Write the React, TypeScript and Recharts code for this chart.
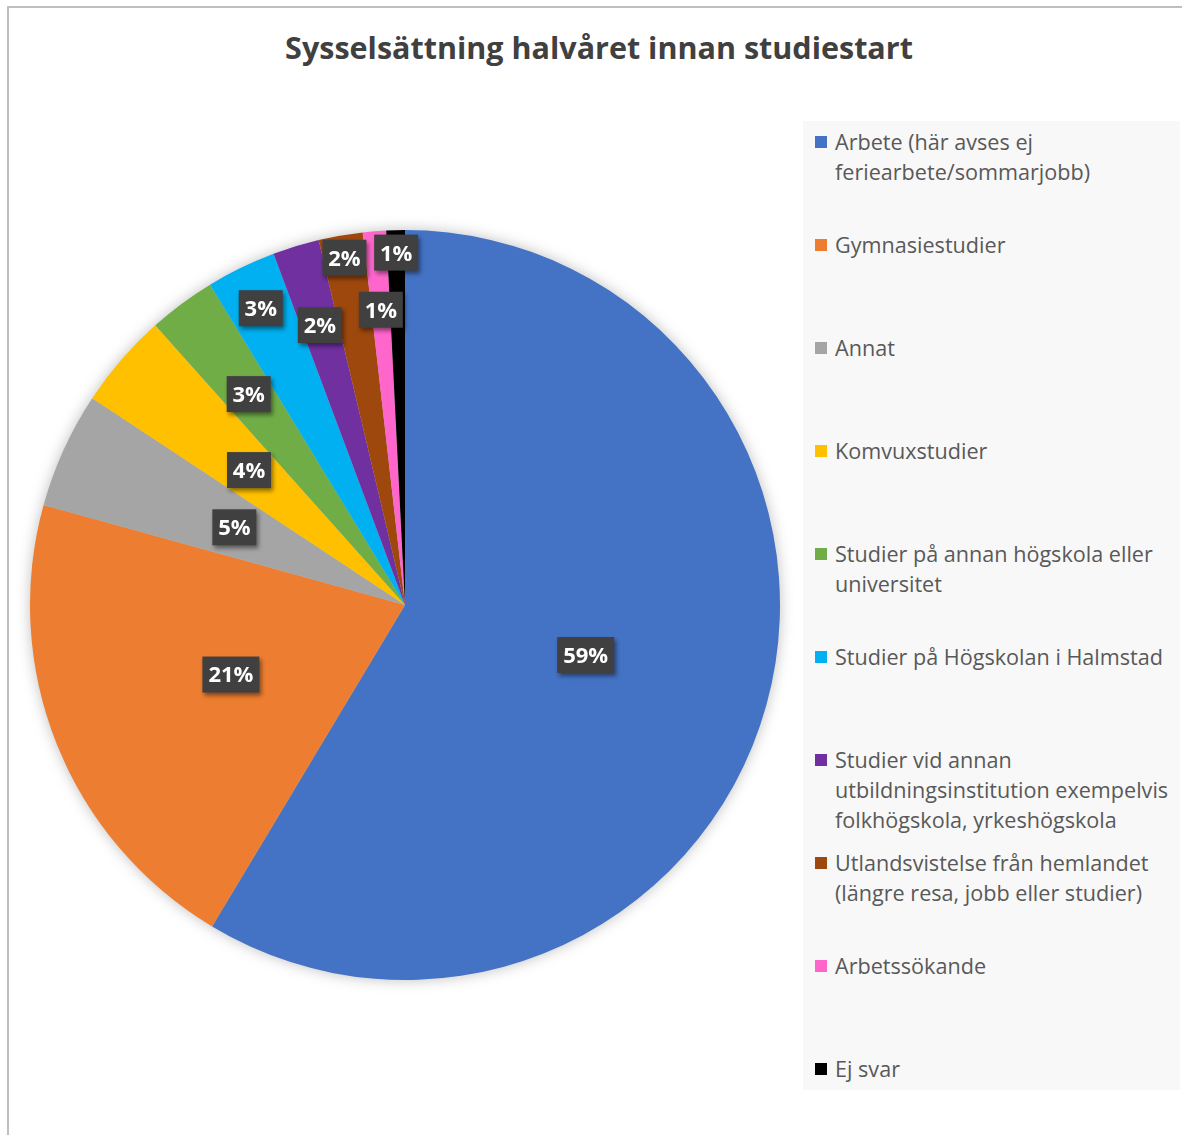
import React from "react";
import { PieChart, Pie, Cell, Legend } from "recharts";

const categories = [
  "Arbete (här avses ej\nferiearbete/sommarjobb)",
  "Gymnasiestudier",
  "Annat",
  "Komvuxstudier",
  "Studier på annan högskola eller\nuniversitet",
  "Studier på Högskolan i Halmstad",
  "Studier vid annan\nutbildningsinstitution exempelvis\nfolkhögskola, yrkeshögskola",
  "Utlandsvistelse från hemlandet\n(längre resa, jobb eller studier)",
  "Arbetssökande",
  "Ej svar",
];

// share of respondents (%)
const shares = [58.6, 20.7, 5.0, 4.1, 2.9, 3.0, 2.0, 1.9, 1.0, 0.8];

const colors = [
  "#4472C4",
  "#ED7D31",
  "#A5A5A5",
  "#FFC000",
  "#70AD47",
  "#00B0F0",
  "#7030A0",
  "#9E480E",
  "#FF66CC",
  "#000000",
];

// "best fit" label distance from centre, fraction of radius
const labelRadius = [0.5, 0.5, 0.5, 0.55, 0.7, 0.88, 0.78, 0.94, 0.79, 0.94];

const data = categories.map((name, i) => ({ name, value: shares[i] }));

const RAD = Math.PI / 180;
const FONT = "'Open Sans', 'Noto Sans', sans-serif";

const renderLabel = (props: any) => {
  const { cx, cy, midAngle, outerRadius, percent, index } = props;
  const r = outerRadius * labelRadius[index];
  const x = cx + r * Math.cos(-midAngle * RAD);
  const y = cy + r * Math.sin(-midAngle * RAD);
  const text = `${Math.round(percent * 100)}%`;
  const w = text.length > 2 ? 57 : 44;
  const h = 36;
  return (
    <g style={{ filter: "drop-shadow(2px 3px 2px rgba(0,0,0,0.45))" }}>
      <rect x={x - w / 2} y={y - h / 2} width={w} height={h} fill="#404040" />
      <text
        x={x}
        y={y}
        dy="0.36em"
        textAnchor="middle"
        fill="#ffffff"
        fontSize={22}
        fontWeight={700}
        fontFamily={FONT}
      >
        {text}
      </text>
    </g>
  );
};

// legend keeps the series order (Recharts would sort its payload by name)
const renderLegend = () => (
  <div
    style={{
      background: "#F8F8F8",
      width: 377,
      height: 969,
      fontFamily: FONT,
      fontSize: 21.6,
      color: "#595959",
    }}
  >
    {categories.map((label, i) => (
      <div
        key={i}
        style={{
          height: 103,
          boxSizing: "border-box",
          paddingTop: 6,
          paddingLeft: 12,
          display: "flex",
          alignItems: "flex-start",
        }}
      >
        <div
          style={{
            width: 12,
            height: 12,
            background: colors[i],
            marginTop: 9,
            marginRight: 8,
            flexShrink: 0,
          }}
        />
        <div style={{ whiteSpace: "pre-line", lineHeight: "30px" }}>{label}</div>
      </div>
    ))}
  </div>
);

export default function App() {
  return (
    <div
      style={{
        position: "absolute",
        top: 6,
        left: 7,
        width: 1180,
        height: 1135,
        borderTop: "2px solid #BFBFBF",
        borderLeft: "2px solid #BFBFBF",
        background: "#ffffff",
      }}
    >
      <style>{`.recharts-pie { filter: drop-shadow(0 0 7px rgba(0,0,0,0.25)); }`}</style>
      <div
        style={{
          position: "absolute",
          left: 0,
          top: 19,
          width: 1180,
          textAlign: "center",
          fontFamily: FONT,
          fontWeight: 700,
          fontSize: 30.5,
          lineHeight: "40px",
          color: "#404040",
        }}
      >
        Sysselsättning halvåret innan studiestart
      </div>
      <PieChart width={1180} height={1135} margin={{ top: 0, right: 0, bottom: 0, left: 0 }}>
        <Pie
          data={data}
          dataKey="value"
          nameKey="name"
          cx={396}
          cy={597}
          outerRadius={375}
          startAngle={90}
          endAngle={-270}
          stroke="none"
          labelLine={false}
          label={renderLabel}
          isAnimationActive={false}
        >
          {data.map((d, i) => (
            <Cell key={d.name} fill={colors[i]} />
          ))}
        </Pie>
        <Legend
          content={renderLegend}
          wrapperStyle={{ position: "absolute", left: 794, top: 113, width: 377, height: 969 }}
        />
      </PieChart>
    </div>
  );
}
